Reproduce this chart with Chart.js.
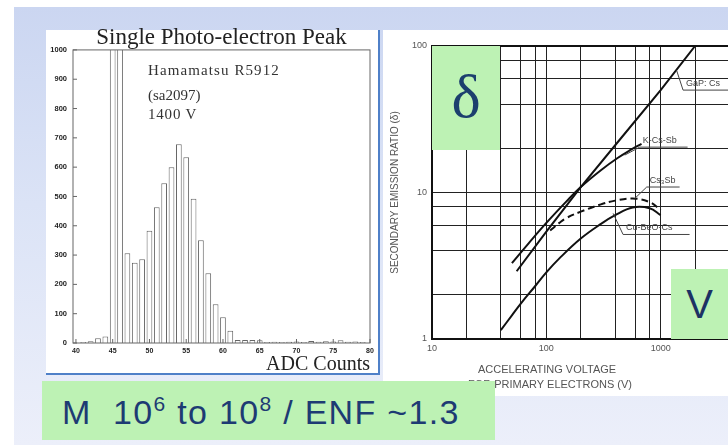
<!DOCTYPE html>
<html>
<head>
<meta charset="utf-8">
<script src="https://cdn.jsdelivr.net/npm/chart.js@4.4.0/dist/chart.umd.min.js"></script>
<style>
  html, body { margin: 0; padding: 0; width: 728px; height: 445px; overflow: hidden; background: #fff; }
  body { position: relative; font-family: "Liberation Sans", Arial, sans-serif; }
  #slide { position: absolute; left: 14px; top: 7px; width: 714px; height: 438px;
           background: linear-gradient(180deg, #cbd6f1 0%, #dbe3f6 45%, #eceffa 100%); }
  #leftPanel { position: absolute; left: 46px; top: 30px; width: 332px; height: 343px; background: #fff;
               border-right: 2px solid #4f80c8; border-bottom: 2px solid #4f80c8; }
  #rightPanel { position: absolute; left: 383px; top: 30px; width: 345px; height: 366px; background: #fff; }
  #histWrap { position: absolute; left: 40px; top: 26px; }
  #semWrap { position: absolute; left: 380px; top: 30px; }
  .note { position: absolute; font-family: "Liberation Serif", "Times New Roman", serif; font-size: 15px; color: #333; }
  .xtitle { position: absolute; font-size: 11px; color: #555; white-space: nowrap; }
  .green { position: absolute; background: #bdf2b4; }
  #delta { left: 432px; top: 46px; width: 68px; height: 104px; text-align: center;
           font-family: "Liberation Serif", serif; font-size: 62px; line-height: 100px; color: #1c3f6e; }
  #volt { left: 671px; top: 269px; width: 57px; height: 70px; text-align: center;
          font-size: 40px; line-height: 70px; color: #1c3264; }
  #enf { left: 42px; top: 381px; width: 453px; height: 59px; font-size: 34px; line-height: 62px;
         letter-spacing: 1.3px; color: #1d3b73; padding-left: 20px; box-sizing: border-box; white-space: nowrap; }
  #enf sup { font-size: 21px; vertical-align: 13px; line-height: 0; }
</style>
</head>
<body>
<div id="slide"></div>
<div id="leftPanel"></div>
<div id="rightPanel"></div>

<div id="histWrap"><canvas id="hist" width="340" height="352"></canvas></div>
<div class="note" style="left:148px; top:62px; letter-spacing:1.1px;">Hamamatsu R5912</div>
<div class="note" style="left:148px; top:87px;">(sa2097)</div>
<div class="note" style="left:148px; top:106px; letter-spacing:0.8px;">1400 V</div>

<div id="semWrap"><canvas id="sem" width="420" height="370"></canvas></div>
<div class="xtitle" style="left:478px; top:363px;">ACCELERATING VOLTAGE</div>
<div class="xtitle" style="left:468px; top:378px;">FOR PRIMARY ELECTRONS (V)</div>

<div class="green" id="delta">δ</div>
<div class="green" id="volt">V</div>
<div class="green" id="enf">M&nbsp; 10<sup>6</sup> to 10<sup>8</sup> / ENF ~1.3</div>

<script>
// single photo-electron spectrum, one bin per ADC count
const adcBins = [41, 42, 43, 44, 45, 46, 47, 48, 49, 50, 51, 52, 53, 54, 55, 56, 57, 58, 59, 60,
                 61, 62, 63, 64, 65, 66, 67, 68, 69, 70, 71, 72, 73, 74, 75, 76, 77, 78, 79];
const adcCounts = [3, 6, 16, 22, 1300, 1300, 306, 274, 286, 383, 463, 545, 600, 678, 634, 492, 351, 238, 132, 88,
                   42, 10, 10, 10, 9, 3, 4, 3, 4, 5, 3, 7, 4, 6, 5, 9, 4, 5, 3];
const histXTicks = [40, 45, 50, 55, 60, 65, 70, 75, 80];
const histYTicks = [0, 100, 200, 300, 400, 500, 600, 700, 800, 900, 1000];

// secondary emission ratio curves (volts, delta)
const gapV = [55, 100, 200, 440, 1000, 2000];
const gapD = [2.9, 5.4, 10.9, 23, 50, 100];
const kcsV = [50, 70, 100, 150, 200, 300, 420, 550, 680];
const kcsD = [3.3, 4.5, 6.2, 8.7, 10.9, 14.2, 17.2, 19.6, 21.5];
const cs3V = [108, 130, 150, 200, 300, 400, 570, 800, 1000];
const cs3D = [5.5, 6.2, 6.7, 7.4, 8.3, 8.8, 9.1, 8.6, 7.6];
const cuV = [40, 50, 60, 80, 100, 130, 200, 300, 400, 570, 800, 1000];
const cuD = [1.15, 1.45, 1.75, 2.3, 2.85, 3.55, 4.85, 6.1, 7.0, 7.9, 7.8, 7.0];

const voltGrid = [10, 20, 40, 60, 80, 100, 200, 400, 600, 800, 1000, 2000, 4000, 6000, 8000, 10000];
const voltLabels = [10, 100, 1000, 10000];
const deltaGrid = [1, 2, 4, 6, 8, 10, 20, 40, 60, 80, 100];
const deltaLabels = [1, 10, 100];

// curve tags: leader line (data units) ending in an underline, text sits on the underline
const curveTags = [
  { text: 'GaP: Cs',   leader: [[1380, 68], [1570, 50], [4400, 50]] },
  { text: 'K-Cs-Sb',   leader: [[485, 18], [656, 20.4], [1720, 20.4]] },
  { text: 'Cs₃Sb',     leader: [[593, 9.1], [755, 10.9], [1465, 10.9]] },
  { text: 'Cu-BeO-Cs', leader: [[384, 7.2], [469, 5.17], [1790, 5.17]] }
];

const pts = (xs, ys) => xs.map((x, i) => ({ x: x, y: ys[i] }));

const framePlugin = {
  id: 'frame',
  afterDraw(chart, args, opts) {
    const { ctx, chartArea: a, scales } = chart;
    ctx.save();
    ctx.strokeStyle = opts.color;
    ctx.lineWidth = opts.width;
    ctx.strokeRect(a.left, a.top, a.right - a.left, a.bottom - a.top);
    if (opts.tick) {
      ctx.lineWidth = 1;
      ctx.beginPath();
      scales.y.ticks.forEach(t => {
        const y = scales.y.getPixelForValue(t.value);
        ctx.moveTo(a.left, y); ctx.lineTo(a.left + opts.tick, y);
      });
      scales.x.ticks.forEach(t => {
        const x = scales.x.getPixelForValue(t.value);
        ctx.moveTo(x, a.bottom); ctx.lineTo(x, a.bottom - opts.tick);
      });
      ctx.stroke();
    }
    ctx.restore();
  }
};

const tagPlugin = {
  id: 'tags',
  afterDatasetsDraw(chart, args, opts) {
    const { ctx, scales: { x, y } } = chart;
    ctx.save();
    ctx.strokeStyle = opts.color;
    ctx.fillStyle = opts.color;
    ctx.lineWidth = 1;
    ctx.font = opts.font;
    ctx.textBaseline = 'bottom';
    opts.tags.forEach(tag => {
      const p = tag.leader.map(([v, d]) => [x.getPixelForValue(v), y.getPixelForValue(d)]);
      ctx.beginPath();
      ctx.moveTo(p[0][0], p[0][1]);
      p.slice(1).forEach(q => ctx.lineTo(q[0], q[1]));
      ctx.stroke();
      const u = p[p.length - 2];
      ctx.fillText(tag.text, u[0] + 3, u[1] - 2);
    });
    ctx.restore();
  }
};

new Chart(document.getElementById('hist'), {
  type: 'bar',
  data: {
    datasets: [{
      data: pts(adcBins, adcCounts),
      backgroundColor: '#fff',
      borderColor: '#666',
      borderWidth: 1,
      barPercentage: 0.78,
      categoryPercentage: 1.0
    }]
  },
  options: {
    responsive: false,
    animation: false,
    layout: { padding: { top: 0, right: 10, left: 0, bottom: 0 } },
    plugins: {
      legend: { display: false },
      tooltip: { enabled: false },
      title: {
        display: true,
        fullSize: false, // centre over the frame, not the whole canvas
        text: 'Single Photo-electron Peak',
        color: '#222',
        font: { family: '"Liberation Serif", "Times New Roman", serif', size: 23, weight: 'normal', lineHeight: 1.04 },
        padding: { top: 0, bottom: 0 }
      },
      frame: { color: '#666', width: 1, tick: 4 }
    },
    scales: {
      x: {
        type: 'linear', min: 39.6, max: 80, offset: false,
        afterBuildTicks: s => { s.ticks = histXTicks.map(v => ({ value: v })); },
        afterFit: s => { s.height = 35; },
        ticks: { color: '#222', font: { size: 7, weight: 'bold' }, padding: 4, maxRotation: 0, autoSkip: false,
                 callback: v => String(v) },
        grid: { display: false, drawTicks: false },
        border: { display: false },
        title: {
          display: true, text: 'ADC Counts', align: 'end', color: '#222',
          font: { family: '"Liberation Serif", "Times New Roman", serif', size: 20, lineHeight: 1.2 },
          padding: { top: 0, bottom: 1 }
        }
      },
      y: {
        min: 0, max: 1000,
        afterBuildTicks: s => { s.ticks = histYTicks.map(v => ({ value: v })); },
        afterFit: s => { s.width = 33; },
        ticks: { color: '#222', font: { size: 7.5, weight: 'bold' }, padding: 6, autoSkip: false,
                 callback: v => String(v) },
        grid: { display: false, drawTicks: false },
        border: { display: false }
      }
    }
  },
  plugins: [framePlugin]
});

const lineStyle = { borderColor: '#111', borderWidth: 2, pointRadius: 0, fill: false };

new Chart(document.getElementById('sem'), {
  type: 'line',
  data: {
    datasets: [
      Object.assign({ label: 'GaP: Cs', data: pts(gapV, gapD), tension: 0 }, lineStyle),
      Object.assign({ label: 'K-Cs-Sb', data: pts(kcsV, kcsD), tension: 0.4 }, lineStyle),
      Object.assign({ label: 'Cs3Sb', data: pts(cs3V, cs3D), tension: 0.4, borderDash: [7, 4] }, lineStyle),
      Object.assign({ label: 'Cu-BeO-Cs', data: pts(cuV, cuD), tension: 0.4 }, lineStyle)
    ]
  },
  options: {
    responsive: false,
    animation: false,
    layout: { padding: { top: 16, right: 25, left: 0, bottom: 0 } },
    plugins: {
      legend: { display: false },
      tooltip: { enabled: false },
      frame: { color: '#111', width: 2, tick: 0 },
      tags: { tags: curveTags, color: '#444', font: '9px "Liberation Sans", Arial, sans-serif' }
    },
    scales: {
      x: {
        type: 'logarithmic', min: 10, max: 10000,
        afterBuildTicks: s => { s.ticks = voltGrid.map(v => ({ value: v })); },
        afterFit: s => { s.height = 61; },
        ticks: {
          color: '#555', font: { size: 9 }, padding: 4, maxRotation: 0, autoSkip: false,
          callback: v => voltLabels.includes(v) ? String(v) : ''
        },
        grid: { color: '#222', lineWidth: 1, drawTicks: false },
        border: { color: '#111', width: 2 }
      },
      y: {
        type: 'logarithmic', min: 1, max: 100,
        afterBuildTicks: s => { s.ticks = deltaGrid.map(v => ({ value: v })); },
        afterFit: s => { s.width = 52; },
        ticks: {
          color: '#555', font: { size: 9 }, padding: 5, autoSkip: false,
          callback: v => deltaLabels.includes(v) ? String(v) : ''
        },
        grid: { color: '#222', lineWidth: 1, drawTicks: false },
        border: { color: '#111', width: 2 },
        title: {
          display: true, text: 'SECONDARY EMISSION RATIO (δ)', color: '#555',
          font: { size: 10 }, padding: { top: 9, bottom: 0 }
        }
      }
    }
  },
  plugins: [framePlugin, tagPlugin]
});
</script>
</body>
</html>
